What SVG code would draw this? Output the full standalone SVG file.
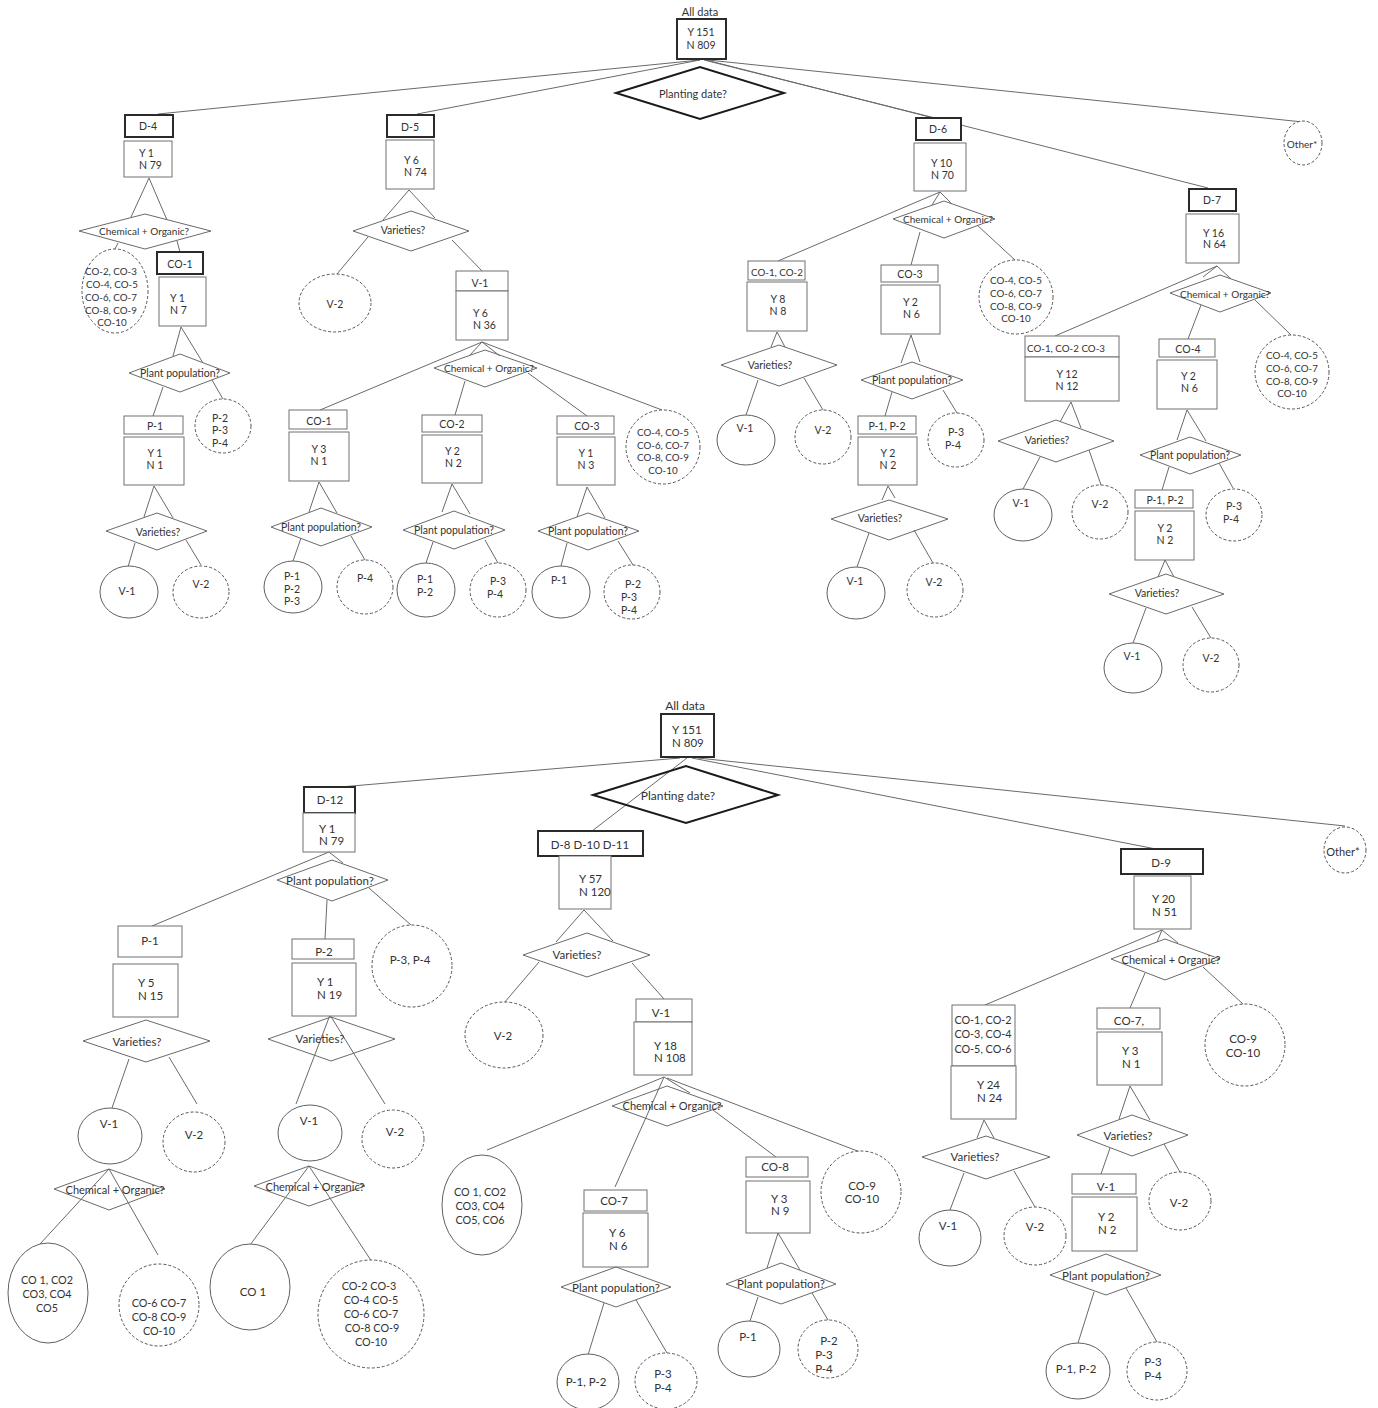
<svg xmlns="http://www.w3.org/2000/svg" width="1378" height="1408" viewBox="0 0 1378 1408">
<style>
text{font-family:Lato,"Liberation Sans",sans-serif;fill:#333;text-anchor:middle;dominant-baseline:central;font-size:10.5px}
.s{text-anchor:start}
.B text{font-size:11.5px}
.B text.n{font-size:10.8px}
text.n{font-size:9.8px}
.r{fill:#fff;stroke:#707070;stroke-width:1}
.h{fill:#fff;stroke:#2a2a2a;stroke-width:2}
.dm{fill:none;stroke:#6a6a6a;stroke-width:1}
.dk{fill:none;stroke:#1a1a1a;stroke-width:2}
.e{fill:#fff;stroke:#606060;stroke-width:1}
.ed{fill:#fff;stroke:#555;stroke-width:1;stroke-dasharray:3 2}
#links line{stroke:#6a6a6a;stroke-width:1}
</style>
<rect width="1378" height="1408" fill="#fff"/>
<g id="links">
<line x1="700" y1="60" x2="158" y2="114"/><line x1="700" y1="60" x2="417" y2="114"/><line x1="704" y1="60" x2="935" y2="118"/><line x1="706" y1="60" x2="1208" y2="188"/><line x1="708" y1="60" x2="1303" y2="122"/>
<line x1="149" y1="178" x2="131" y2="217"/><line x1="149" y1="178" x2="167" y2="220"/><line x1="118" y1="243" x2="115" y2="249"/><line x1="177" y1="241" x2="180" y2="252"/>
<line x1="181" y1="327" x2="173" y2="356"/><line x1="181" y1="327" x2="203" y2="363"/><line x1="163" y1="387" x2="153" y2="416"/><line x1="212" y1="380" x2="223" y2="399"/>
<line x1="154" y1="486" x2="144" y2="517"/><line x1="154" y1="486" x2="173" y2="518"/><line x1="135" y1="543" x2="128" y2="567"/><line x1="186" y1="540" x2="201" y2="565"/>
<line x1="409" y1="190" x2="383" y2="220"/><line x1="409" y1="190" x2="435" y2="218"/><line x1="368" y1="237" x2="337" y2="274"/><line x1="452" y1="240" x2="482" y2="271"/>
<line x1="482" y1="342" x2="470" y2="355"/><line x1="482" y1="342" x2="500" y2="356"/><line x1="482" y1="342" x2="320" y2="410"/><line x1="465" y1="381" x2="455" y2="415"/><line x1="528" y1="373" x2="587" y2="416"/><line x1="482" y1="342" x2="662" y2="410"/>
<line x1="319" y1="482" x2="309" y2="512"/><line x1="319" y1="482" x2="337" y2="513"/><line x1="301" y1="538" x2="293" y2="561"/><line x1="351" y1="536" x2="365" y2="560"/>
<line x1="452" y1="484" x2="442" y2="512"/><line x1="452" y1="484" x2="470" y2="514"/><line x1="433" y1="542" x2="426" y2="563"/><line x1="485" y1="540" x2="498" y2="563"/>
<line x1="587" y1="487" x2="577" y2="517"/><line x1="587" y1="487" x2="605" y2="518"/><line x1="567" y1="543" x2="561" y2="566"/><line x1="618" y1="541" x2="633" y2="565"/>
<line x1="940" y1="192" x2="778" y2="261"/><line x1="940" y1="192" x2="932" y2="205"/><line x1="940" y1="192" x2="952" y2="204"/><line x1="920" y1="232" x2="911" y2="265"/><line x1="977" y1="225" x2="1015" y2="260"/>
<line x1="777" y1="332" x2="771" y2="347"/><line x1="777" y1="332" x2="785" y2="347"/><line x1="758" y1="380" x2="746" y2="415"/><line x1="804" y1="378" x2="823" y2="410"/>
<line x1="911" y1="335" x2="901" y2="363"/><line x1="911" y1="335" x2="920" y2="362"/><line x1="892" y1="392" x2="885" y2="416"/><line x1="943" y1="390" x2="957" y2="413"/>
<line x1="888" y1="486" x2="882" y2="500"/><line x1="888" y1="486" x2="895" y2="498"/><line x1="869" y1="533" x2="857" y2="567"/><line x1="914" y1="530" x2="933" y2="563"/>
<line x1="1217" y1="266" x2="1055" y2="336"/><line x1="1217" y1="266" x2="1203" y2="277"/><line x1="1217" y1="266" x2="1231" y2="279"/><line x1="1201" y1="305" x2="1188" y2="339"/><line x1="1255" y1="300" x2="1291" y2="335"/>
<line x1="1071" y1="402" x2="1060" y2="422"/><line x1="1071" y1="402" x2="1081" y2="428"/><line x1="1040" y1="457" x2="1023" y2="489"/><line x1="1089" y1="450" x2="1101" y2="485"/>
<line x1="1187" y1="410" x2="1177" y2="440"/><line x1="1187" y1="410" x2="1206" y2="441"/><line x1="1169" y1="467" x2="1162" y2="490"/><line x1="1219" y1="463" x2="1233" y2="488"/>
<line x1="1165" y1="560" x2="1158" y2="577"/><line x1="1165" y1="560" x2="1174" y2="577"/><line x1="1146" y1="608" x2="1133" y2="643"/><line x1="1192" y1="607" x2="1211" y2="638"/>
<line x1="680" y1="758" x2="340" y2="787"/><line x1="687" y1="758" x2="592" y2="831"/><line x1="692" y1="758" x2="1156" y2="849"/><line x1="698" y1="758" x2="1345" y2="826"/>
<line x1="329" y1="852" x2="152" y2="926"/><line x1="329" y1="852" x2="343" y2="863"/><line x1="327" y1="900" x2="325" y2="939"/><line x1="369" y1="888" x2="411" y2="925"/>
<line x1="129" y1="1059" x2="112" y2="1108"/><line x1="169" y1="1057" x2="197" y2="1104"/><line x1="109" y1="1169" x2="40" y2="1244"/><line x1="109" y1="1169" x2="158" y2="1255"/>
<line x1="330" y1="1015" x2="296" y2="1104"/><line x1="330" y1="1015" x2="385" y2="1104"/><line x1="309" y1="1166" x2="250" y2="1245"/><line x1="309" y1="1166" x2="372" y2="1262"/>
<line x1="584" y1="910" x2="556" y2="942"/><line x1="584" y1="910" x2="613" y2="941"/><line x1="539" y1="962" x2="504" y2="1003"/><line x1="632" y1="963" x2="664" y2="999"/>
<line x1="664" y1="1077" x2="487" y2="1150"/><line x1="664" y1="1077" x2="615" y2="1187"/><line x1="664" y1="1077" x2="690" y2="1093"/><line x1="713" y1="1110" x2="776" y2="1157"/><line x1="667" y1="1078" x2="860" y2="1152"/>
<line x1="604" y1="1303" x2="588" y2="1355"/><line x1="636" y1="1300" x2="667" y2="1353"/>
<line x1="778" y1="1233" x2="767" y2="1268"/><line x1="778" y1="1233" x2="800" y2="1270"/><line x1="758" y1="1297" x2="750" y2="1321"/><line x1="812" y1="1293" x2="828" y2="1320"/>
<line x1="1162" y1="930" x2="985" y2="1005"/><line x1="1162" y1="930" x2="1157" y2="942"/><line x1="1162" y1="930" x2="1178" y2="943"/><line x1="1145" y1="973" x2="1130" y2="1008"/><line x1="1203" y1="967" x2="1244" y2="1005"/>
<line x1="984" y1="1120" x2="977" y2="1138"/><line x1="984" y1="1120" x2="994" y2="1138"/><line x1="964" y1="1173" x2="950" y2="1210"/><line x1="1014" y1="1171" x2="1035" y2="1207"/>
<line x1="1130" y1="1086" x2="1119" y2="1119"/><line x1="1130" y1="1086" x2="1150" y2="1120"/><line x1="1110" y1="1148" x2="1101" y2="1174"/><line x1="1164" y1="1144" x2="1180" y2="1172"/>
<line x1="1094" y1="1292" x2="1078" y2="1343"/><line x1="1126" y1="1288" x2="1157" y2="1342"/>
</g>
<!-- TOP TREE -->
<g id="t-root"><text x="700" y="11" style="font-size:11px">All data</text><rect class="h" x="677" y="19" width="49" height="40"/><text x="701" y="32">Y 151</text><text x="701" y="45">N 809</text></g>
<g id="t-planting"><polygon class="dk" points="616,93 700,67 784,93 700,119"/><text x="693" y="93" style="font-size:11px">Planting date?</text></g>
<g id="t-d4"><rect class="h" x="125" y="115" width="48" height="22"/><text x="148" y="126">D-4</text><rect class="r" x="124" y="141" width="48" height="36"/><text class="s" x="139" y="153">Y 1</text><text class="s" x="139" y="165">N 79</text></g>
<g id="t-d4-chem"><polygon class="dm" points="79,231 145,214 211,231 145,249"/><text x="144" y="231" style="font-size:10px">Chemical + Organic?</text></g>
<g id="t-d4-corest"><ellipse class="ed" cx="115" cy="291" rx="33" ry="42"/><text class="n" x="111" y="271">CO-2, CO-3</text><text class="n" x="112" y="284">CO-4, CO-5</text><text class="n" x="111" y="297">CO-6, CO-7</text><text class="n" x="111" y="310">CO-8, CO-9</text><text class="n" x="112" y="322">CO-10</text></g>
<g id="t-d4-co1"><rect class="h" x="157" y="252" width="46" height="22"/><text x="180" y="264">CO-1</text><rect class="r" x="159" y="277" width="47" height="49"/><text class="s" x="170" y="298">Y 1</text><text class="s" x="170" y="310">N 7</text></g>
<g id="t-d4-pp"><polygon class="dm" points="129,373 180,354 230,373 180,392"/><text x="180" y="373">Plant population?</text></g>
<g id="t-d4-p1"><rect class="r" x="124" y="416" width="59" height="18"/><text x="155" y="426">P-1</text><rect class="r" x="124" y="437" width="60" height="48"/><text x="155" y="453">Y 1</text><text x="155" y="465">N 1</text></g>
<g id="t-d4-p234"><ellipse class="ed" cx="223" cy="426" rx="28" ry="27"/><text x="220" y="418">P-2</text><text x="220" y="430">P-3</text><text x="220" y="443">P-4</text></g>
<g id="t-d4-var"><polygon class="dm" points="106,531 157,513 207,531 157,550"/><text x="158" y="532">Varieties?</text></g>
<g id="t-d4-v1"><ellipse class="e" cx="129" cy="592" rx="29" ry="26"/><text x="127" y="591">V-1</text></g>
<g id="t-d4-v2"><ellipse class="ed" cx="201" cy="592" rx="28" ry="26"/><text x="201" y="584">V-2</text></g>
<g id="t-d5"><rect class="h" x="387" y="115" width="47" height="22"/><text x="410" y="127">D-5</text><rect class="r" x="386" y="140" width="48" height="49"/><text class="s" x="404" y="160">Y 6</text><text class="s" x="404" y="172">N 74</text></g>
<g id="t-d5-var"><polygon class="dm" points="353,231 411,211 469,231 411,251"/><text x="403" y="230">Varieties?</text></g>
<g id="t-d5-v2"><ellipse class="ed" cx="335" cy="303" rx="36" ry="29"/><text x="335" y="304">V-2</text></g>
<g id="t-d5-v1"><rect class="r" x="456" y="271" width="52" height="20"/><text x="480" y="283">V-1</text><rect class="r" x="456" y="291" width="52" height="49"/><text class="s" x="473" y="313">Y 6</text><text class="s" x="473" y="325">N 36</text></g>
<g id="t-d5-chem"><polygon class="dm" points="434,368 485,350 537,368 485,387"/><text x="489" y="368" style="font-size:10px">Chemical + Organic?</text></g>
<g id="t-d5-co1"><rect class="r" x="289" y="410" width="58" height="19"/><text x="319" y="421">CO-1</text><rect class="r" x="289" y="432" width="60" height="49"/><text x="319" y="449">Y 3</text><text x="319" y="461">N 1</text></g>
<g id="t-d5-co1-pp"><polygon class="dm" points="271,527 321,508 372,527 321,546"/><text x="321" y="527">Plant population?</text></g>
<g id="t-d5-co1-p123"><ellipse class="e" cx="293" cy="587" rx="29" ry="26"/><text x="292" y="576">P-1</text><text x="292" y="589">P-2</text><text x="292" y="601">P-3</text></g>
<g id="t-d5-co1-p4"><ellipse class="ed" cx="365" cy="587" rx="28" ry="27"/><text x="365" y="578">P-4</text></g>
<g id="t-d5-co2"><rect class="r" x="422" y="415" width="60" height="17"/><text x="452" y="424">CO-2</text><rect class="r" x="422" y="435" width="60" height="48"/><text class="s" x="445" y="451">Y 2</text><text class="s" x="445" y="463">N 2</text></g>
<g id="t-d5-co2-pp"><polygon class="dm" points="403,530 454,511 505,530 454,549"/><text x="454" y="530">Plant population?</text></g>
<g id="t-d5-co2-p12"><ellipse class="e" cx="426" cy="590" rx="29" ry="27"/><text x="425" y="579">P-1</text><text x="425" y="592">P-2</text></g>
<g id="t-d5-co2-p34"><ellipse class="ed" cx="498" cy="590" rx="28" ry="27"/><text x="498" y="581">P-3</text><text x="495" y="594">P-4</text></g>
<g id="t-d5-co3"><rect class="r" x="557" y="416" width="57" height="18"/><text x="587" y="426">CO-3</text><rect class="r" x="557" y="437" width="58" height="48"/><text x="586" y="453">Y 1</text><text x="586" y="465">N 3</text></g>
<g id="t-d5-co3-pp"><polygon class="dm" points="538,531 588,513 639,531 588,550"/><text x="588" y="531">Plant population?</text></g>
<g id="t-d5-co3-p1"><ellipse class="e" cx="561" cy="592" rx="29" ry="26"/><text x="559" y="580">P-1</text></g>
<g id="t-d5-co3-p234"><ellipse class="ed" cx="632" cy="592" rx="28" ry="27"/><text x="633" y="584">P-2</text><text x="629" y="597">P-3</text><text x="629" y="610">P-4</text></g>
<g id="t-d5-corest"><ellipse class="ed" cx="663" cy="447" rx="37" ry="37"/><text class="n" x="663" y="432">CO-4, CO-5</text><text class="n" x="663" y="445">CO-6, CO-7</text><text class="n" x="663" y="457">CO-8, CO-9</text><text class="n" x="663" y="470">CO-10</text></g>
<g id="t-d6"><rect class="h" x="916" y="118" width="45" height="22"/><text x="938" y="129">D-6</text><rect class="r" x="914" y="143" width="52" height="48"/><text class="s" x="931" y="163">Y 10</text><text class="s" x="931" y="175">N 70</text></g>
<g id="t-d6-chem"><polygon class="dm" points="893,219 944,201 995,219 944,238"/><text x="948" y="219" style="font-size:10px">Chemical + Organic?</text></g>
<g id="t-d6-co12"><rect class="r" x="748" y="261" width="57" height="19"/><text class="n" x="777" y="272">CO-1, CO-2</text><rect class="r" x="747" y="282" width="60" height="49"/><text x="778" y="299">Y 8</text><text x="778" y="311">N 8</text></g>
<g id="t-d6-co12-var"><polygon class="dm" points="721,365 779,345 837,365 779,386"/><text x="770" y="365">Varieties?</text></g>
<g id="t-d6-co12-v1"><ellipse class="e" cx="746" cy="440" rx="29" ry="25"/><text x="745" y="428">V-1</text></g>
<g id="t-d6-co12-v2"><ellipse class="ed" cx="823" cy="437" rx="28" ry="27"/><text x="823" y="430">V-2</text></g>
<g id="t-d6-co3"><rect class="r" x="881" y="265" width="57" height="17"/><text x="910" y="274">CO-3</text><rect class="r" x="881" y="285" width="59" height="49"/><text class="s" x="903" y="302">Y 2</text><text class="s" x="903" y="314">N 6</text></g>
<g id="t-d6-co3-pp"><polygon class="dm" points="861,380 912,362 963,380 912,399"/><text x="912" y="380">Plant population?</text></g>
<g id="t-d6-p12"><rect class="r" x="858" y="416" width="58" height="18"/><text x="887" y="426">P-1, P-2</text><rect class="r" x="858" y="437" width="59" height="48"/><text x="888" y="453">Y 2</text><text x="888" y="465">N 2</text></g>
<g id="t-d6-p34"><ellipse class="ed" cx="956" cy="440" rx="28" ry="27"/><text x="956" y="432">P-3</text><text x="953" y="445">P-4</text></g>
<g id="t-d6-p12-var"><polygon class="dm" points="831,519 889,500 948,519 889,540"/><text x="880" y="518">Varieties?</text></g>
<g id="t-d6-p12-v1"><ellipse class="e" cx="856" cy="593" rx="29" ry="26"/><text x="855" y="581">V-1</text></g>
<g id="t-d6-p12-v2"><ellipse class="ed" cx="935" cy="590" rx="28" ry="27"/><text x="934" y="582">V-2</text></g>
<g id="t-d6-corest"><ellipse class="ed" cx="1016" cy="297" rx="37" ry="37"/><text class="n" x="1016" y="280">CO-4, CO-5</text><text class="n" x="1016" y="293">CO-6, CO-7</text><text class="n" x="1016" y="306">CO-8, CO-9</text><text class="n" x="1016" y="318">CO-10</text></g>
<g id="t-d7"><rect class="h" x="1189" y="189" width="47" height="22"/><text x="1212" y="200">D-7</text><rect class="r" x="1186" y="214" width="53" height="49"/><text class="s" x="1203" y="233">Y 16</text><text class="s" x="1203" y="244">N 64</text></g>
<g id="t-d7-chem"><polygon class="dm" points="1170,293 1220,275 1271,293 1220,312"/><text x="1225" y="294" style="font-size:10px">Chemical + Organic?</text></g>
<g id="t-d7-co123"><rect class="r" x="1025" y="336" width="94" height="21"/><text class="n" x="1066" y="348">CO-1, CO-2 CO-3</text><rect class="r" x="1025" y="357" width="94" height="44"/><text x="1067" y="374">Y 12</text><text x="1067" y="386">N 12</text></g>
<g id="t-d7-co123-var"><polygon class="dm" points="998,441 1056,420 1114,441 1056,462"/><text x="1047" y="440">Varieties?</text></g>
<g id="t-d7-co123-v1"><ellipse class="e" cx="1023" cy="515" rx="29" ry="26"/><text x="1021" y="503">V-1</text></g>
<g id="t-d7-co123-v2"><ellipse class="ed" cx="1100" cy="512" rx="28" ry="27"/><text x="1100" y="504">V-2</text></g>
<g id="t-d7-co4"><rect class="r" x="1159" y="339" width="56" height="18"/><text x="1188" y="349">CO-4</text><rect class="r" x="1157" y="360" width="60" height="49"/><text class="s" x="1181" y="376">Y 2</text><text class="s" x="1181" y="388">N 6</text></g>
<g id="t-d7-co4-pp"><polygon class="dm" points="1140,455 1190,437 1241,455 1190,474"/><text x="1190" y="455">Plant population?</text></g>
<g id="t-d7-p12"><rect class="r" x="1135" y="490" width="58" height="18"/><text x="1165" y="500">P-1, P-2</text><rect class="r" x="1135" y="511" width="59" height="49"/><text x="1165" y="528">Y 2</text><text x="1165" y="540">N 2</text></g>
<g id="t-d7-p34"><ellipse class="ed" cx="1234" cy="515" rx="28" ry="26"/><text x="1234" y="506">P-3</text><text x="1231" y="519">P-4</text></g>
<g id="t-d7-p12-var"><polygon class="dm" points="1109,594 1166,574 1224,594 1166,614"/><text x="1157" y="593">Varieties?</text></g>
<g id="t-d7-p12-v1"><ellipse class="e" cx="1133" cy="668" rx="29" ry="25"/><text x="1132" y="656">V-1</text></g>
<g id="t-d7-p12-v2"><ellipse class="ed" cx="1211" cy="665" rx="28" ry="27"/><text x="1211" y="658">V-2</text></g>
<g id="t-d7-corest"><ellipse class="ed" cx="1292" cy="372" rx="37" ry="37"/><text class="n" x="1292" y="355">CO-4, CO-5</text><text class="n" x="1292" y="368">CO-6, CO-7</text><text class="n" x="1292" y="381">CO-8, CO-9</text><text class="n" x="1292" y="393">CO-10</text></g>
<g id="t-other"><ellipse class="ed" cx="1303" cy="143" rx="19" ry="22"/><text x="1302" y="144" style="font-size:10px">Other*</text></g>
<!-- BOTTOM TREE -->
<g class="B">
<g id="b-root"><text x="685" y="705" style="font-size:12px">All data</text><rect class="h" x="661" y="714" width="53" height="43"/><text class="s" x="672" y="729">Y 151</text><text class="s" x="672" y="742">N 809</text></g>
<g id="b-planting"><polygon class="dk" points="593,795 686,766 778,795 686,823"/><text x="678" y="795" style="font-size:12px">Planting date?</text></g>
<g id="b-d12"><rect class="h" x="304" y="787" width="51" height="26"/><text x="330" y="799">D-12</text><rect class="r" x="303" y="813" width="52" height="39"/><text class="s" x="319" y="828">Y 1</text><text class="s" x="319" y="840">N 79</text></g>
<g id="b-d12-pp"><polygon class="dm" points="277,880 332,860 388,880 332,901"/><text x="330" y="880">Plant population?</text></g>
<g id="b-p1"><rect class="r" x="118" y="926" width="64" height="31"/><text x="150" y="940">P-1</text><rect class="r" x="113" y="964" width="65" height="53"/><text class="s" x="138" y="982">Y 5</text><text class="s" x="138" y="995">N 15</text></g>
<g id="b-p1-var"><polygon class="dm" points="83,1041 146,1020 210,1041 146,1062"/><text x="137" y="1041">Varieties?</text></g>
<g id="b-p1-v1"><ellipse class="e" cx="110" cy="1136" rx="32" ry="28"/><text x="109" y="1123">V-1</text></g>
<g id="b-p1-v2"><ellipse class="ed" cx="194" cy="1142" rx="31" ry="30"/><text x="194" y="1134">V-2</text></g>
<g id="b-p1-chem"><polygon class="dm" points="54,1189 109,1169 165,1189 109,1210"/><text x="115" y="1189" style="font-size:11px">Chemical + Organic?</text></g>
<g id="b-p1-co15"><ellipse class="e" cx="48" cy="1293" rx="40" ry="50"/><text class="n" x="47" y="1279">CO 1, CO2</text><text class="n" x="47" y="1293">CO3, CO4</text><text class="n" x="47" y="1307">CO5</text></g>
<g id="b-p1-corest"><ellipse class="ed" cx="159" cy="1305" rx="40" ry="41"/><text class="n" x="159" y="1302">CO-6 CO-7</text><text class="n" x="159" y="1316">CO-8 CO-9</text><text class="n" x="159" y="1330">CO-10</text></g>
<g id="b-p2"><rect class="r" x="292" y="939" width="62" height="20"/><text x="324" y="951">P-2</text><rect class="r" x="292" y="963" width="64" height="53"/><text class="s" x="317" y="981">Y 1</text><text class="s" x="317" y="994">N 19</text></g>
<g id="b-p2-var"><polygon class="dm" points="268,1039 331,1017 395,1039 331,1061"/><text x="320" y="1038">Varieties?</text></g>
<g id="b-p2-v1"><ellipse class="e" cx="310" cy="1133" rx="32" ry="28"/><text x="309" y="1120">V-1</text></g>
<g id="b-p2-v2"><ellipse class="ed" cx="393" cy="1139" rx="31" ry="29"/><text x="395" y="1131">V-2</text></g>
<g id="b-p2-chem"><polygon class="dm" points="254,1186 309,1166 365,1186 309,1206"/><text x="315" y="1186" style="font-size:11px">Chemical + Organic?</text></g>
<g id="b-p2-co1"><ellipse class="e" cx="250" cy="1287" rx="40" ry="43"/><text x="253" y="1291">CO 1</text></g>
<g id="b-p2-corest"><ellipse class="ed" cx="371" cy="1314" rx="53" ry="54"/><text class="n" x="369" y="1285">CO-2 CO-3</text><text class="n" x="371" y="1299">CO-4 CO-5</text><text class="n" x="371" y="1313">CO-6 CO-7</text><text class="n" x="372" y="1327">CO-8 CO-9</text><text class="n" x="371" y="1341">CO-10</text></g>
<g id="b-p34"><ellipse class="ed" cx="412" cy="966" rx="40" ry="41"/><text x="410" y="959">P-3, P-4</text></g>
<g id="b-d8"><rect class="h" x="538" y="831" width="105" height="25"/><text x="590" y="844">D-8 D-10 D-11</text><rect class="r" x="559" y="856" width="52" height="53"/><text class="s" x="579" y="878">Y 57</text><text class="s" x="579" y="891">N 120</text></g>
<g id="b-d8-var"><polygon class="dm" points="523,955 587,933 650,955 587,977"/><text x="577" y="954">Varieties?</text></g>
<g id="b-d8-v2"><ellipse class="ed" cx="504" cy="1035" rx="39" ry="33"/><text x="503" y="1035">V-2</text></g>
<g id="b-d8-v1"><rect class="r" x="636" y="999" width="56" height="23"/><text x="661" y="1012">V-1</text><rect class="r" x="634" y="1022" width="58" height="53"/><text class="s" x="654" y="1045">Y 18</text><text class="s" x="654" y="1057">N 108</text></g>
<g id="b-d8-chem"><polygon class="dm" points="612,1106 667,1086 723,1106 667,1126"/><text x="672" y="1105" style="font-size:11px">Chemical + Organic?</text></g>
<g id="b-d8-co16"><ellipse class="e" cx="482" cy="1205" rx="40" ry="50"/><text class="n" x="480" y="1191">CO 1, CO2</text><text class="n" x="480" y="1205">CO3, CO4</text><text class="n" x="480" y="1219">CO5, CO6</text></g>
<g id="b-d8-co7"><rect class="r" x="584" y="1190" width="63" height="21"/><text x="614" y="1200">CO-7</text><rect class="r" x="583" y="1213" width="65" height="54"/><text class="s" x="609" y="1232">Y 6</text><text class="s" x="609" y="1245">N 6</text></g>
<g id="b-d8-co7-pp"><polygon class="dm" points="561,1287 616,1267 671,1287 616,1307"/><text x="616" y="1287">Plant population?</text></g>
<g id="b-d8-co7-p12"><ellipse class="e" cx="588" cy="1382" rx="31" ry="28"/><text x="586" y="1381">P-1, P-2</text></g>
<g id="b-d8-co7-p34"><ellipse class="ed" cx="666" cy="1381" rx="31" ry="28"/><text x="663" y="1373">P-3</text><text x="663" y="1387">P-4</text></g>
<g id="b-d8-co8"><rect class="r" x="746" y="1157" width="62" height="20"/><text x="775" y="1166">CO-8</text><rect class="r" x="746" y="1181" width="64" height="52"/><text class="s" x="771" y="1198">Y 3</text><text class="s" x="771" y="1210">N 9</text></g>
<g id="b-d8-co8-pp"><polygon class="dm" points="726,1284 781,1263 836,1284 781,1304"/><text x="781" y="1283">Plant population?</text></g>
<g id="b-d8-co8-p1"><ellipse class="e" cx="749" cy="1349" rx="31" ry="28"/><text x="748" y="1336">P-1</text></g>
<g id="b-d8-co8-p234"><ellipse class="ed" cx="828" cy="1349" rx="30" ry="29"/><text x="829" y="1340">P-2</text><text x="824" y="1354">P-3</text><text x="824" y="1368">P-4</text></g>
<g id="b-d8-co910"><ellipse class="ed" cx="861" cy="1192" rx="40" ry="41"/><text x="862" y="1185">CO-9</text><text x="862" y="1198">CO-10</text></g>
<g id="b-d9"><rect class="h" x="1121" y="849" width="82" height="25"/><text x="1161" y="862">D-9</text><rect class="r" x="1134" y="876" width="57" height="53"/><text class="s" x="1152" y="898">Y 20</text><text class="s" x="1152" y="911">N 51</text></g>
<g id="b-d9-chem"><polygon class="dm" points="1111,959 1165,939 1220,959 1165,980"/><text x="1171" y="959" style="font-size:11px">Chemical + Organic?</text></g>
<g id="b-d9-co16"><rect class="r" x="952" y="1005" width="63" height="61"/><text class="n" x="983" y="1019">CO-1, CO-2</text><text class="n" x="983" y="1033">CO-3, CO-4</text><text class="n" x="983" y="1048">CO-5, CO-6</text><rect class="r" x="951" y="1066" width="65" height="53"/><text class="s" x="977" y="1084">Y 24</text><text class="s" x="977" y="1097">N 24</text></g>
<g id="b-d9-co16-var"><polygon class="dm" points="922,1157 986,1136 1050,1157 986,1179"/><text x="975" y="1156">Varieties?</text></g>
<g id="b-d9-co16-v1"><ellipse class="e" cx="950" cy="1238" rx="31" ry="28"/><text x="948" y="1225">V-1</text></g>
<g id="b-d9-co16-v2"><ellipse class="ed" cx="1035" cy="1236" rx="31" ry="29"/><text x="1035" y="1226">V-2</text></g>
<g id="b-d9-co7"><rect class="r" x="1097" y="1008" width="63" height="21"/><text x="1129" y="1020">CO-7,</text><rect class="r" x="1097" y="1032" width="65" height="53"/><text class="s" x="1122" y="1050">Y 3</text><text class="s" x="1122" y="1063">N 1</text></g>
<g id="b-d9-co7-var"><polygon class="dm" points="1077,1135 1132,1115 1188,1135 1132,1156"/><text x="1128" y="1135">Varieties?</text></g>
<g id="b-d9-v1"><rect class="r" x="1072" y="1174" width="64" height="20"/><text x="1106" y="1186">V-1</text><rect class="r" x="1072" y="1197" width="65" height="54"/><text class="s" x="1098" y="1216">Y 2</text><text class="s" x="1098" y="1229">N 2</text></g>
<g id="b-d9-v2"><ellipse class="ed" cx="1180" cy="1201" rx="31" ry="29"/><text x="1179" y="1202">V-2</text></g>
<g id="b-d9-v1-pp"><polygon class="dm" points="1050,1275 1106,1254 1161,1275 1106,1295"/><text x="1106" y="1275">Plant population?</text></g>
<g id="b-d9-p12"><ellipse class="e" cx="1078" cy="1371" rx="32" ry="28"/><text x="1076" y="1368">P-1, P-2</text></g>
<g id="b-d9-p34"><ellipse class="ed" cx="1157" cy="1371" rx="30" ry="29"/><text x="1153" y="1361">P-3</text><text x="1153" y="1375">P-4</text></g>
<g id="b-d9-co910"><ellipse class="ed" cx="1245" cy="1045" rx="40" ry="41"/><text x="1243" y="1038">CO-9</text><text x="1243" y="1052">CO-10</text></g>
<g id="b-other"><ellipse class="ed" cx="1345" cy="850" rx="21" ry="23"/><text x="1343" y="851" style="font-size:11px">Other*</text></g>
</g>
</svg>
